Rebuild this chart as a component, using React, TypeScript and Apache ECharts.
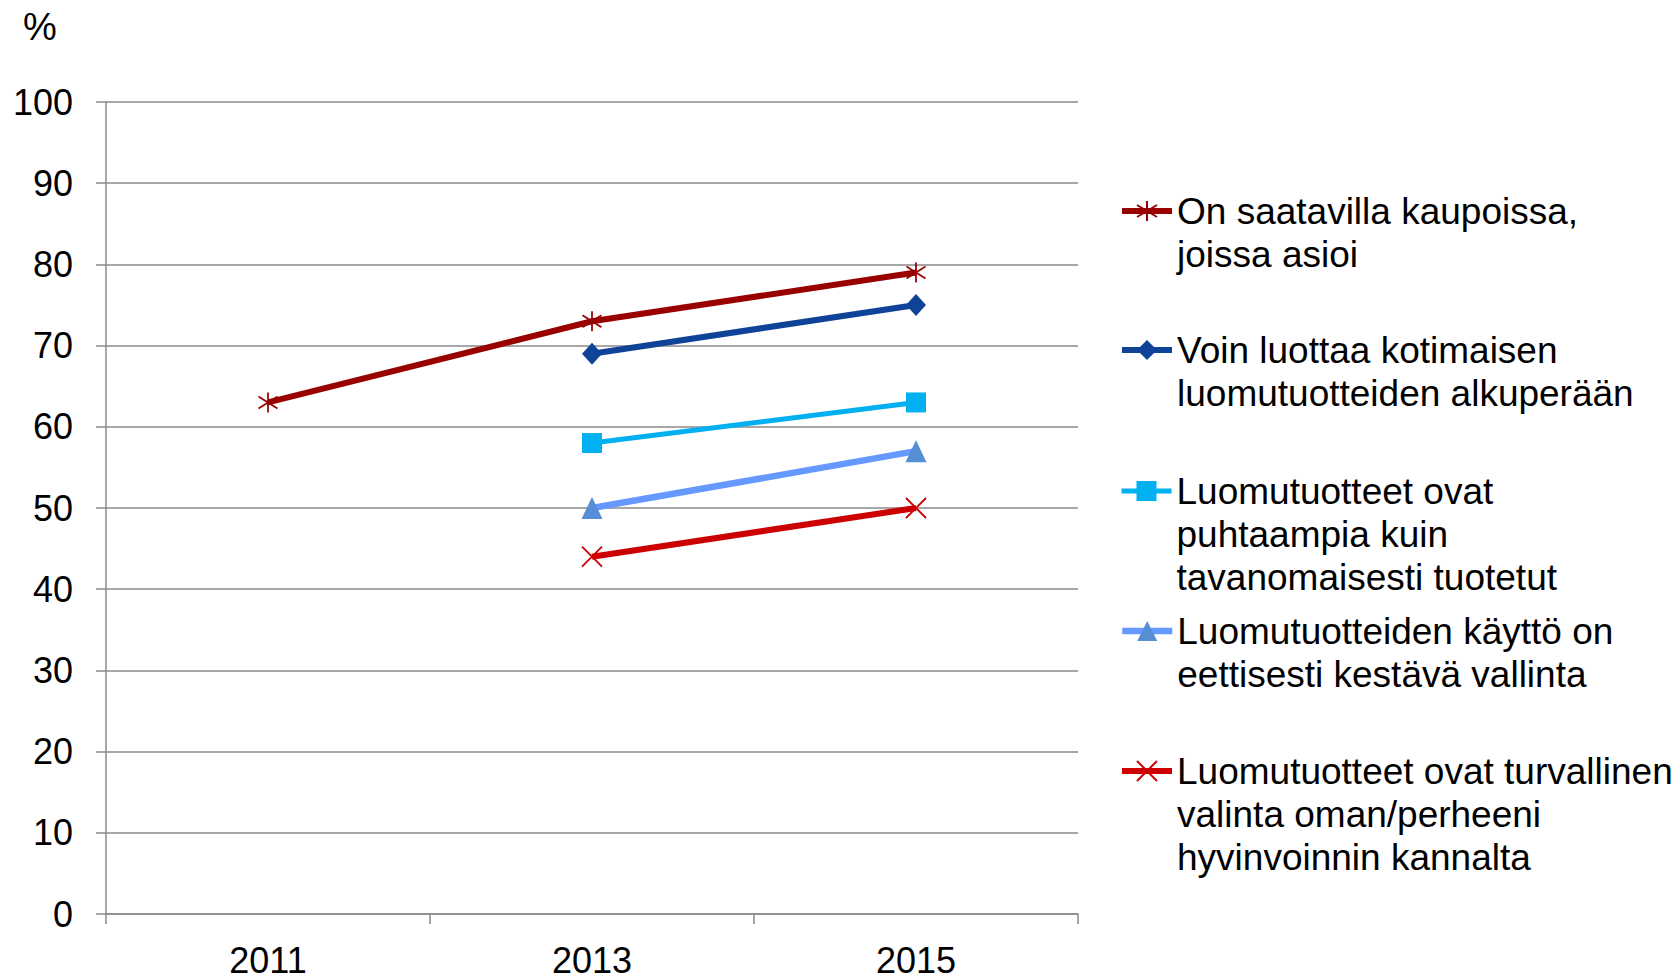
import React, { useEffect, useRef } from 'react';
import * as echarts from 'echarts';

const years = ['2011', '2013', '2015'];

const seriesNames = [
  'On saatavilla kaupoissa, joissa asioi',
  'Voin luottaa kotimaisen luomutuotteiden alkuperään',
  'Luomutuotteet ovat puhtaampia kuin tavanomaisesti tuotetut',
  'Luomutuotteiden käyttö on eettisesti kestävä vallinta',
  'Luomutuotteet ovat turvallinen valinta oman/perheeni hyvinvoinnin kannalta',
];

const legendLines = [
  ['On saatavilla kaupoissa,', 'joissa asioi'],
  ['Voin luottaa kotimaisen', 'luomutuotteiden alkuperään'],
  ['Luomutuotteet ovat', 'puhtaampia kuin', 'tavanomaisesti tuotetut'],
  ['Luomutuotteiden käyttö on', 'eettisesti kestävä vallinta'],
  ['Luomutuotteet ovat turvallinen', 'valinta oman/perheeni', 'hyvinvoinnin kannalta'],
];

const availableInShops = [63, 73, 79];
const trustOrigin = [null, 69, 75];
const purer = [null, 58, 63];
const ethical = [null, 50, 57];
const safeChoice = [null, 44, 50];

const yMin = 0;
const yMax = 100;
const yInterval = 10;

const FONT = '"Liberation Sans", Arial, sans-serif';

export default function App() {
  const ref = useRef<HTMLDivElement>(null);

  useEffect(() => {
    if (!ref.current) return;
    const chart = echarts.init(ref.current, null, { renderer: 'svg' });

    const LH = 43;
    const iconYs = [211, 350, 491, 631, 771];
    const lineWidths = [6, 6, 5, 6.5, 6];
    const legends = seriesNames.map((name, i) => {
      const n = legendLines[i].length;
      const blanks = new Array(n - 1).fill('\u00a0');
      return {
        data: [name],
        left: 1119,
        top: iconYs[i] - ((2 * n - 1) * LH) / 2,
        padding: 0,
        orient: 'vertical',
        itemWidth: 50,
        itemHeight: 25,
        selectedMode: false,
        lineStyle: { width: lineWidths[i] },
        formatter: () => blanks.concat(legendLines[i]).join('\n'),
        textStyle: {
          fontSize: 37,
          lineHeight: LH,
          color: '#000',
          fontFamily: FONT,
        },
      };
    });

    const mk = (
      name: string,
      data: (number | null)[],
      lineColor: string,
      markColor: string,
      symbol: string,
      symbolSize: number | number[],
      stroked: boolean,
      width: number
    ) => ({
      name,
      type: 'line',
      data,
      symbol,
      symbolSize,
      connectNulls: false,
      lineStyle: { color: lineColor, width },
      itemStyle: stroked
        ? { color: markColor, borderColor: markColor, borderWidth: 1.8 }
        : { color: markColor, borderWidth: 0 },
      emphasis: { disabled: true },
    });

    chart.setOption({
      animation: false,
      backgroundColor: '#fff',
      title: {
        text: '%',
        left: 18,
        top: 3,
        textStyle: { fontSize: 38, fontWeight: 'normal', color: '#000', fontFamily: FONT },
      },
      legend: legends,
      grid: { left: 106, right: 602, top: 102, bottom: 65 },
      xAxis: {
        type: 'category',
        data: years,
        boundaryGap: true,
        axisLine: { lineStyle: { color: '#8a8a8a', width: 1.5 } },
        axisTick: { show: true, length: 10, lineStyle: { color: '#8a8a8a', width: 1.5 } },
        axisLabel: { fontSize: 36, color: '#000', fontFamily: FONT, margin: 28 },
        splitLine: { show: false },
      },
      yAxis: {
        type: 'value',
        min: yMin,
        max: yMax,
        interval: yInterval,
        axisLine: { show: true, lineStyle: { color: '#8a8a8a', width: 1.5 } },
        axisTick: { show: true, length: 10, lineStyle: { color: '#8a8a8a', width: 1.5 } },
        axisLabel: { fontSize: 36, color: '#000', fontFamily: FONT, margin: 33 },
        splitLine: { show: true, lineStyle: { color: '#8a8a8a', width: 1.5 } },
      },
      series: [
        mk(seriesNames[0], availableInShops, '#990000', '#990000',
          'path://M0,-10L0,10M-8,-6L8,6M-8,6L8,-6', [19, 20], true, lineWidths[0]),
        mk(seriesNames[1], trustOrigin, '#0E4398', '#0E4398', 'diamond', [20, 22], false, lineWidths[1]),
        mk(seriesNames[2], purer, '#00B0F0', '#00B0F0', 'rect', 20, false, lineWidths[2]),
        mk(seriesNames[3], ethical, '#6699FF', '#558ED5', 'triangle', [21, 22], false, lineWidths[3]),
        mk(seriesNames[4], safeChoice, '#CC0000', '#CC0000',
          'path://M-10,-10L10,10M-10,10L10,-10', [20, 20], true, lineWidths[4]),
      ],
    });

    return () => chart.dispose();
  }, []);

  return (
    <div
      ref={ref}
      style={{ position: 'fixed', left: 0, top: 0, width: 1680, height: 979, background: '#fff' }}
    />
  );
}
